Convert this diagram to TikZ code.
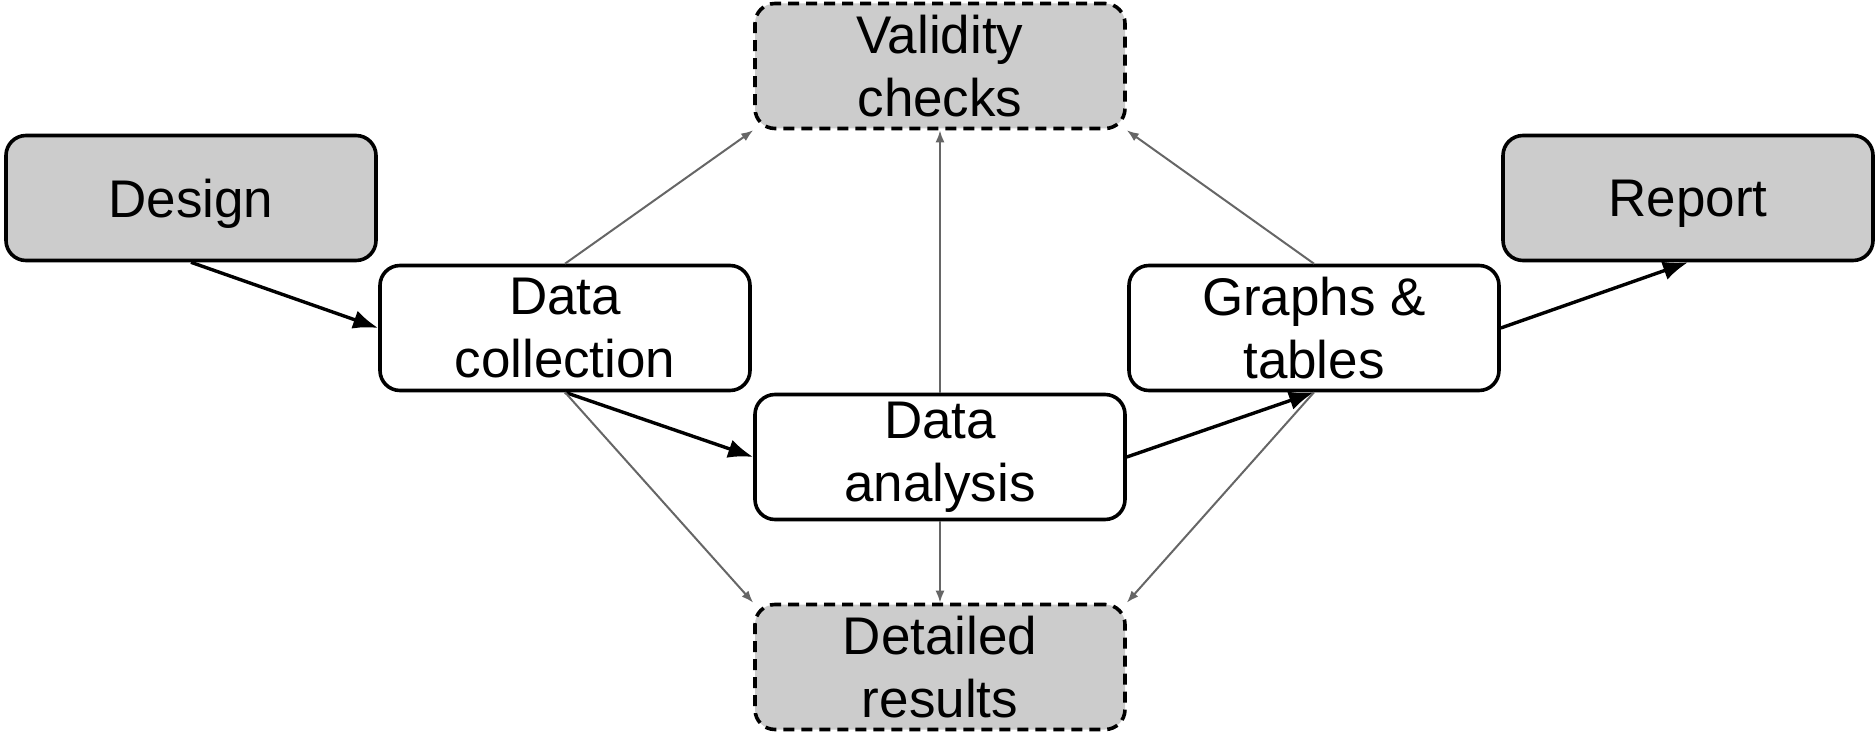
\documentclass[tikz,border=0pt]{standalone}
\usepackage{fontspec}
\setmainfont{Liberation Sans}
\usetikzlibrary{arrows.meta}
\definecolor{boxgray}{HTML}{CCCCCC}
\definecolor{linegray}{HTML}{666666}
\begin{document}
\begin{tikzpicture}[x=1pt,y=-1pt,
  box/.style={draw=black, line width=3.6pt, rounded corners=20pt,
    minimum width=370pt, minimum height=125pt, inner sep=0pt,
    align=center, font=\fontsize{53}{63}\selectfont},
  endbox/.style={box, fill=boxgray, text depth=0pt},
  outbox/.style={box, fill=boxgray, dash pattern=on 11pt off 7pt},
  flow/.style={draw=black, line width=3.4pt, -{Latex[length=25pt,width=19pt]}},
  side/.style={draw=linegray, line width=2pt, -{Latex[length=12pt,width=9pt]}}
]
\path[use as bounding box] (0,0) rectangle (1875,735);
\node[endbox] (design) at (191,198) {Design};
\node[endbox] (report) at (1688,198) {Report};
\node[box] (coll) at (565,328) {Data\\collection};
\node[box] (graphs) at (1314,328) {Graphs \&\\tables};
\node[box] (anal) at (940,457) {Data\\analysis};
\node[outbox] (valid) at (940,66) {Validity\\checks};
\node[outbox] (detail) at (940,667) {Detailed\\results};

\draw[flow] (design.south) -- (coll.west);
\draw[flow] (coll.south) -- (anal.west);
\draw[flow] (anal.east) -- (graphs.south);
\draw[flow] (graphs.east) -- (report.south);

\draw[side] (coll.north) -- (valid.south west);
\draw[side] (anal.north) -- (valid.south);
\draw[side] (graphs.north) -- (valid.south east);
\draw[side] (coll.south) -- (detail.north west);
\draw[side] (anal.south) -- (detail.north);
\draw[side] (graphs.south) -- (detail.north east);
\end{tikzpicture}
\end{document}
